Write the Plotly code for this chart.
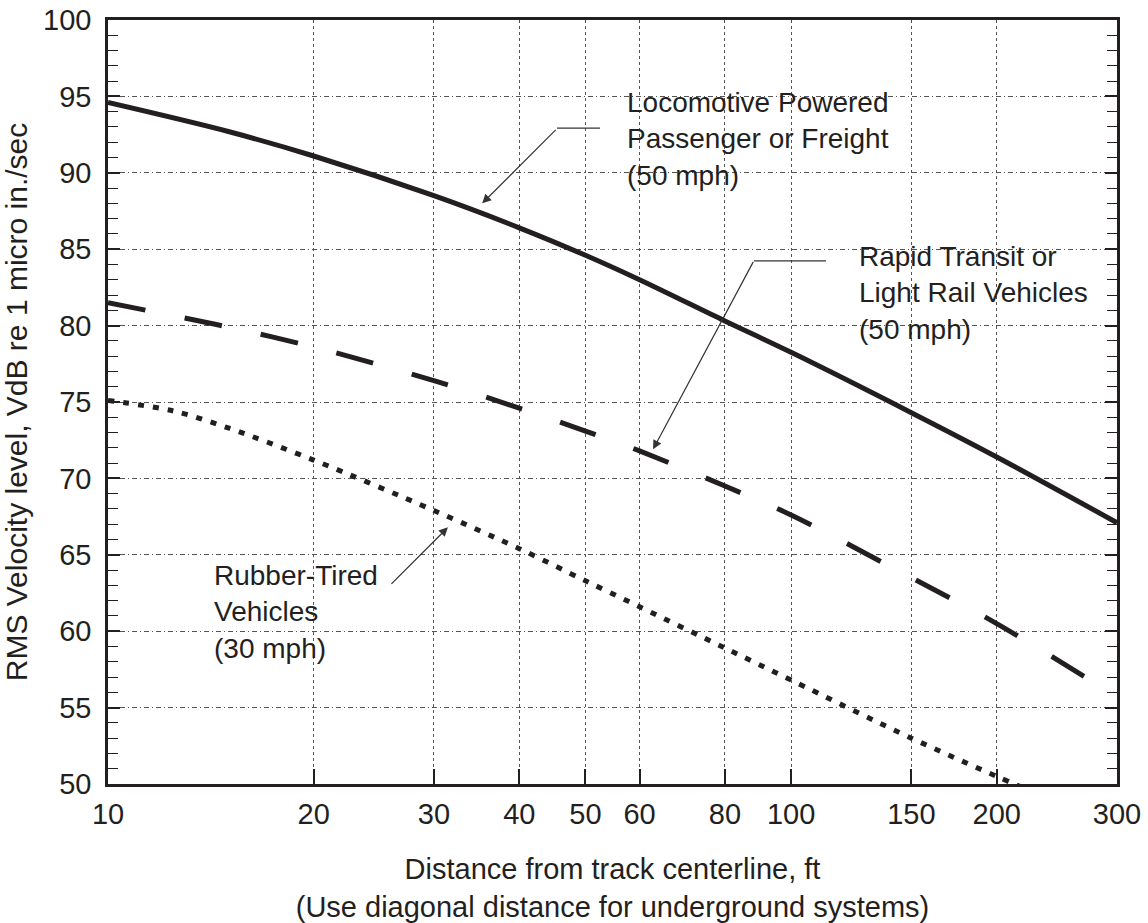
import math
import plotly.graph_objects as go

# ---- data ----
distance_ft = [10, 15, 20, 30, 40, 50, 60, 80, 100, 150, 200, 300]
locomotive_vdb = [94.6, 92.7, 91.1, 88.5, 86.4, 84.6, 83.0, 80.3, 78.25, 74.3, 71.4, 67.1]
rapid_transit_vdb = [81.5, 79.9, 78.6, 76.4, 74.6, 73.1, 71.8, 69.5, 67.6, 63.5, 60.5, 55.7]

rubber_distance_ft = [10, 12.5, 15, 20, 30, 40, 50, 60, 80, 100, 150, 200, 220]
rubber_tired_vdb = [75.1, 74.4, 73.3, 71.2, 67.9, 65.4, 63.3, 61.6, 58.9, 56.8, 53.0, 50.5, 49.7]

x_tick_vals = [10, 20, 30, 40, 50, 60, 80, 100, 150, 200, 300]
x_tick_text = [str(v) for v in x_tick_vals]
y_tick_vals = list(range(50, 101, 5))

label_locomotive = "Locomotive Powered<br>Passenger or Freight<br>(50 mph)"
label_rapid = "Rapid Transit or<br>Light Rail Vehicles<br>(50 mph)"
label_rubber = "Rubber-Tired<br>Vehicles<br>(30 mph)"

INK = "#231f20"
FONT = "Liberation Sans, Arial, sans-serif"

fig = go.Figure()
fig.add_trace(go.Scatter(x=distance_ft, y=locomotive_vdb, mode="lines",
                         line=dict(color=INK, width=5, shape="spline", smoothing=0.9),
                         name="Locomotive"))
fig.add_trace(go.Scatter(x=distance_ft, y=rapid_transit_vdb, mode="lines",
                         line=dict(color=INK, width=5, dash="38px,40px", shape="spline", smoothing=0.9),
                         name="Rapid Transit"))
fig.add_trace(go.Scatter(x=rubber_distance_ft, y=rubber_tired_vdb, mode="lines",
                         line=dict(color=INK, width=5, dash="6px,9px", shape="spline", smoothing=0.9),
                         name="Rubber-Tired"))

fig.update_layout(
    width=1148, height=923,
    margin=dict(l=108, r=31, t=20, b=139),
    paper_bgcolor="white", plot_bgcolor="white",
    showlegend=False,
    font=dict(family=FONT, color=INK),
)

fig.update_xaxes(
    type="log", range=[1, math.log10(300)], automargin=False,
    tickvals=x_tick_vals, ticktext=x_tick_text,
    ticks="inside", ticklen=15, tickwidth=1.5, tickcolor=INK,
    tickfont=dict(size=29, color=INK), ticklabelstandoff=2, ticklabeloverflow="allow",
    showgrid=True, gridcolor="#555", gridwidth=1, griddash="3px,3px",
    showline=True, linecolor=INK, linewidth=2.5, mirror=True,
    zeroline=False,
    title=dict(text="Distance from track centerline, ft<br>(Use diagonal distance for underground systems)",
               font=dict(size=29, color=INK), standoff=31),
)
fig.update_yaxes(
    range=[50, 100], automargin=False,
    tickvals=y_tick_vals,
    ticks="inside", ticklen=12, tickwidth=1.5, tickcolor=INK,
    tickfont=dict(size=29, color=INK), ticklabelstandoff=8, ticklabeloverflow="allow",
    minor=dict(dtick=1, ticks="inside", ticklen=10, tickwidth=1.2, tickcolor=INK, showgrid=False),
    showgrid=True, gridcolor="#555", gridwidth=1, griddash="5px,3px,1px,3px",
    showline=True, linecolor=INK, linewidth=2.5, mirror="ticks",
    zeroline=False,
    title=dict(text="RMS Velocity level, VdB re 1 micro in./sec",
               font=dict(size=30, color=INK), standoff=16),
)

# text labels
for txt, xp, yp in [(label_locomotive, 0.5124, 0.844),
                    (label_rapid, 0.7423, 0.6427),
                    (label_rubber, 0.1031, 0.2251)]:
    fig.add_annotation(text=txt, xref="paper", yref="paper", x=xp, y=yp,
                       xanchor="left", yanchor="middle", align="left",
                       showarrow=False, font=dict(size=28, color=INK, family=FONT))

# leader arrows (tip on curve, tail offset in pixels)
for tip_x, tip_y, ax, ay in [(35.3, 88.0, 75, -75),
                             (62.8, 71.9, 101, -189),
                             (31.45, 66.8, -58, 58)]:
    fig.add_annotation(x=math.log10(tip_x), y=tip_y, xref="x", yref="y",
                       text="", showarrow=True, ax=ax, ay=ay,
                       arrowhead=2, arrowsize=1.5, arrowwidth=1.2, arrowcolor="#333")

# horizontal parts of the bent leaders
for x0, x1, yy in [(0.445, 0.4876, 0.8586), (0.6402, 0.7116, 0.6846)]:
    fig.add_shape(type="line", xref="paper", yref="paper", x0=x0, x1=x1, y0=yy, y1=yy,
                  line=dict(color="#333", width=1.2))

# remove the default 8px page margin so the figure fills the window exactly
fig.write_html("out.html",
               config={"displayModeBar": False},
               post_script="document.body.style.margin='0';document.body.style.overflow='hidden';")
